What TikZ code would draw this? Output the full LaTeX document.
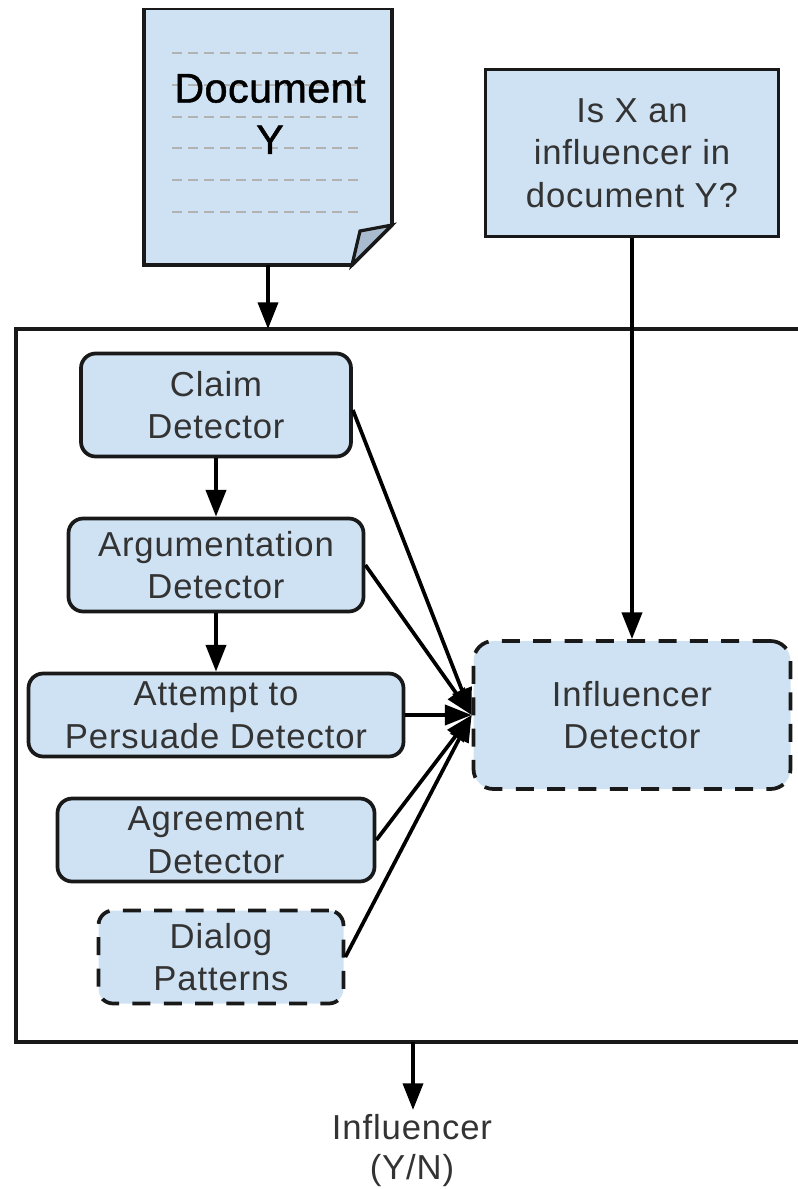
\documentclass[tikz,border=0pt]{standalone}
\usepackage{fontspec}
\setmainfont[LetterSpace=2.5]{Liberation Sans}
\newfontfamily\docfont[LetterSpace=1,FakeBold=1.2]{Liberation Sans}
\usetikzlibrary{arrows.meta}
\definecolor{boxblue}{HTML}{CFE2F3}
\definecolor{foldblue}{HTML}{A9BCCF}
\tikzset{
 px/.style={x=0.75pt,y=-0.75pt},
 box/.style={draw=black!90,fill=boxblue,line width=2.8pt,rounded corners=11pt,align=center,inner sep=0pt,font=\fontsize{26}{32}\selectfont,text=black!80},
 dashbox/.style={box,rounded corners=15pt,dash pattern=on 13.5pt off 10pt},
 flow/.style={draw=black,line width=2.8pt,-{Triangle[length=20pt,width=15pt]}},
}
\begin{document}
\begin{tikzpicture}[px]
\useasboundingbox (0,0) rectangle (798,1189);

% document
\begin{scope}
 \clip (100,8) rectangle (440,300);
 \path[draw=black!90,fill=boxblue,line width=2.8pt] (144,8) -- (144,265) -- (352,265) -- (392,225) -- (392,8) -- cycle;
\end{scope}
\path[draw=black!90,fill=foldblue,line width=2.4pt] (352,265) -- (360,231) -- (392,225) -- cycle;
\foreach \y in {53,85,117,148,180,212}
 \draw[black!30,line width=1.5pt,dash pattern=on 7.5pt off 4.5pt] (172,\y) -- (358,\y);
\node[font=\fontsize{31}{38.6}\docfont,align=center,text=black,inner sep=0pt] (docname) at (270,114) {Document\\Y};
\coordinate (docout) at (268,265);

% question
\node[box,rounded corners=0pt,minimum width=293pt*0.75,minimum height=167pt*0.75] (question) at (632,153) {Is X an\\influencer in\\document Y?};

% system
\draw[black!90,line width=2.8pt] (798,329) -- (16,329) -- (16,1042) -- (798,1042);
\coordinate (systop) at (268,329);
\coordinate (sysbot) at (413,1042);
\coordinate (result) at (413,1110);

\node[box,minimum width=270pt*0.75,minimum height=103pt*0.75] (claim) at (216,405) {Claim\\Detector};
\node[box,minimum width=295pt*0.75,minimum height=93pt*0.75] (argument) at (216,565) {Argumentation\\Detector};
\node[box,minimum width=375pt*0.75,minimum height=83pt*0.75] (attempt) at (216,715) {Attempt to\\Persuade Detector};
\node[box,minimum width=317pt*0.75,minimum height=83pt*0.75] (agree) at (216,840) {Agreement\\Detector};
\node[dashbox,rounded corners=11pt,minimum width=245pt*0.75,minimum height=93pt*0.75] (dialog) at (221,957) {Dialog\\Patterns};
\node[dashbox,minimum width=317pt*0.75,minimum height=148pt*0.75] (influencer) at (632,715) {Influencer\\Detector};

\node[font=\fontsize{26}{30}\selectfont,align=center,text=black!80,inner sep=0pt] (answer) at (412,1151) {Influencer\\(Y/N)};

\draw[flow] (docout) -- (systop);
\draw[flow] (question) -- (influencer);
\draw[flow] (claim) -- (argument);
\draw[flow] (argument) -- (attempt);
\draw[flow] (claim.east) ++(0,5) -- (influencer.west);
\draw[flow] (argument.east) -- (influencer.west);
\draw[flow] (attempt) -- (influencer.west);
\draw[flow] (agree.east) -- (influencer.west);
\draw[flow] (dialog.east) -- (influencer.west);
\draw[flow] (sysbot) -- (result);
\end{tikzpicture}
\end{document}
